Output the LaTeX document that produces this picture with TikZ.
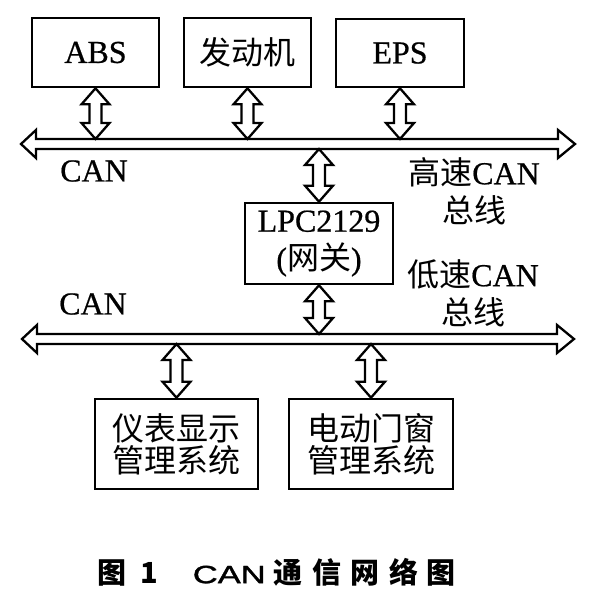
\documentclass[tikz,border=0pt]{standalone}
\usepackage{fontspec}
\usepackage{graphicx}
\setmainfont{Liberation Serif}[FakeBold=0.6]
\newfontfamily\cjk{Noto Sans CJK SC}
\newfontfamily\capsans{Liberation Sans}[FakeBold=1.2]
\usetikzlibrary{calc}
\tikzset{
  unit box/.style={draw, line width=2.6pt, inner sep=0pt, rectangle, align=center,
    font=\fontsize{32pt}{38pt}\selectfont},
  txt/.style={inner sep=0pt, align=center, font=\fontsize{32pt}{38pt}\selectfont},
  hollow/.style={draw, line width=2.3pt, fill=white, line join=miter},
}
\newcommand{\dblarrow}[2]{%
  \draw[hollow] let \p1=(#1), \p2=(#2) in
    (\x1,\y1) -- (\x1+14pt,\y1-16pt) -- (\x1+6pt,\y1-16pt) -- (\x1+6pt,\y2+16pt)
    -- (\x1+14pt,\y2+16pt) -- (\x1,\y2) -- (\x1-14pt,\y2+16pt) -- (\x1-6pt,\y2+16pt)
    -- (\x1-6pt,\y1-16pt) -- (\x1-14pt,\y1-16pt) -- cycle;}
\newcommand{\busline}[2]{%
  \draw[hollow] let \p1=(#1), \p2=(#2) in
    (\x1,\y1) -- (\x1+15pt,\y1+14pt) -- (\x1+15pt,\y1+5pt) -- (\x2-17pt,\y1+5pt)
    -- (\x2-17pt,\y1+14pt) -- (\x2,\y1) -- (\x2-17pt,\y1-14pt) -- (\x2-17pt,\y1-5pt)
    -- (\x1+15pt,\y1-5pt) -- (\x1+15pt,\y1-14pt) -- cycle;}
\begin{document}
\begin{tikzpicture}[x=1pt,y=-1pt]
\useasboundingbox[fill=white] (0,0) rectangle (592,592);

% top units
\node[unit box, minimum width=127pt, minimum height=69pt] (abs) at (95.5,52.5) {ABS};
\node[unit box, minimum width=127pt, minimum height=69pt] (eng) at (247.5,52.5) {\cjk 发动机};
\node[unit box, minimum width=128pt, minimum height=68pt] (eps) at (400,53) {EPS};

% gateway
\node[unit box, minimum width=148pt, minimum height=81pt] (gw) at (319,243.5)
  {LPC2129\\({\cjk 网关})};

% bottom units
\node[unit box, minimum width=163pt, minimum height=90pt,
  font=\fontsize{32pt}{32pt}\selectfont\cjk] (dash) at (176.5,444) {仪表显示\\管理系统};
\node[unit box, minimum width=164pt, minimum height=90pt,
  font=\fontsize{32pt}{32pt}\selectfont\cjk] (win) at (371,444) {电动门窗\\管理系统};

% bus coordinates
\coordinate (hsL) at (21,144);
\coordinate (hsR) at (575,144);
\coordinate (hsTop) at (0,139);
\coordinate (hsBot) at (0,149);
\coordinate (lsL) at (22,339);
\coordinate (lsR) at (574,339);
\coordinate (lsTop) at (0,334);
\coordinate (lsBot) at (0,344);

\busline{hsL}{hsR}
\busline{lsL}{lsR}

\dblarrow{abs.south}{abs.south |- hsTop}
\dblarrow{eng.south}{eng.south |- hsTop}
\dblarrow{eps.south}{eps.south |- hsTop}
\dblarrow{gw.north |- hsBot}{gw.north}
\dblarrow{gw.south}{gw.south |- lsTop}
\dblarrow{dash.north |- lsBot}{dash.north}
\dblarrow{win.north |- lsBot}{win.north}

% labels
\node[txt] (canA) at (94,171) {CAN};
\node[txt] (canB) at (93,304) {CAN};
\node[txt] (hsLab) at (474,191) {{\cjk 高速}CAN\\{\cjk 总线}};
\node[txt] (lsLab) at (473,293) {{\cjk 低速}CAN\\{\cjk 总线}};

% caption
\node[inner sep=0pt, anchor=west, font=\fontsize{29pt}{29pt}\selectfont] (cap) at (97,572)
  {{\cjk\bfseries 图}\hspace{14.5pt}{\cjk\bfseries 1}\hspace{34.5pt}{\fontsize{25pt}{25pt}\selectfont\scalebox{1.38}[1]{\capsans CAN}}\hspace{8pt}{\cjk\bfseries 通\hspace{9.5pt}信\hspace{9.5pt}网\hspace{9.5pt}络\hspace{8pt}图}};
\end{tikzpicture}
\end{document}
